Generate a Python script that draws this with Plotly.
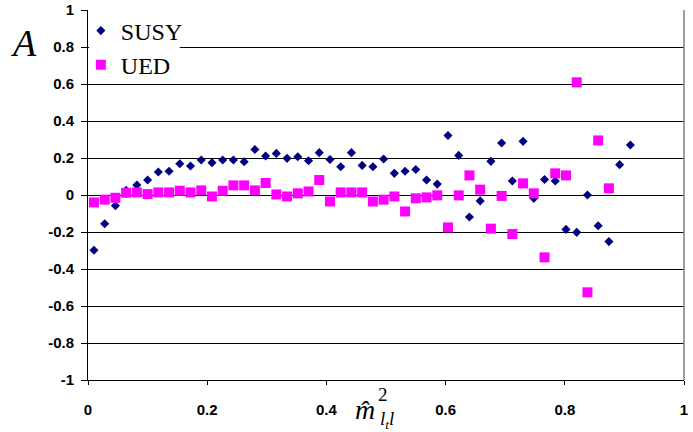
import plotly.graph_objects as go

# bin centres (shared by both models)
x_bins = [0.010, 0.028, 0.046, 0.064, 0.082, 0.100, 0.118, 0.136, 0.154, 0.172,
          0.190, 0.208, 0.226, 0.244, 0.262, 0.280, 0.298, 0.316, 0.334, 0.352,
          0.370, 0.388, 0.406, 0.424, 0.442, 0.460, 0.478, 0.496, 0.514, 0.532,
          0.550, 0.568, 0.586, 0.604, 0.622, 0.640, 0.658, 0.676, 0.694, 0.712,
          0.730, 0.748, 0.766, 0.784, 0.802, 0.820, 0.838, 0.856, 0.874, 0.892,
          0.910]

susy_a = [-0.299, -0.155, -0.058, 0.025, 0.054, 0.081, 0.124, 0.128, 0.169, 0.157,
          0.189, 0.175, 0.189, 0.189, 0.180, 0.246, 0.211, 0.225, 0.198, 0.207,
          0.185, 0.229, 0.192, 0.153, 0.229, 0.160, 0.153, 0.195, 0.117, 0.128,
          0.138, 0.081, 0.059, 0.322, 0.214, -0.119, -0.032, 0.182, 0.281, 0.076,
          0.290, -0.018, 0.084, 0.076, -0.186, -0.202, 0.000, -0.166, -0.252, 0.164,
          0.270]

ued_a = [-0.040, -0.025, -0.015, 0.012, 0.014, 0.005, 0.014, 0.014, 0.023, 0.014,
         0.025, -0.008, 0.023, 0.052, 0.052, 0.025, 0.065, 0.003, -0.008, 0.009,
         0.019, 0.081, -0.035, 0.014, 0.014, 0.014, -0.035, -0.025, -0.008, -0.089,
         -0.018, -0.013, -0.002, -0.175, -0.002, 0.106, 0.029, -0.182, -0.005, -0.211,
         0.063, 0.009, -0.337, 0.117, 0.106, 0.609, -0.526, 0.295, 0.036]

x_ticks = [0, 0.2, 0.4, 0.6, 0.8, 1]
x_labels = ["0", "0.2", "0.4", "0.6", "0.8", "1"]
y_ticks = [1, 0.8, 0.6, 0.4, 0.2, 0, -0.2, -0.4, -0.6, -0.8, -1]
y_labels = ["1", "0.8", "0.6", "0.4", "0.2", "0", "-0.2", "-0.4", "-0.6", "-0.8", "-1"]

serif = "Liberation Serif, Times New Roman, serif"
sans = "Arial, Liberation Sans, sans-serif"

fig = go.Figure()
fig.add_trace(go.Scatter(
    x=x_bins, y=susy_a, mode="markers", name="SUSY",
    marker=dict(symbol="diamond", size=7, color="#000080")
))
fig.add_trace(go.Scatter(
    x=x_bins[:len(ued_a)], y=ued_a, mode="markers", name="UED",
    marker=dict(symbol="square", size=10, color="#FF00FF")
))

# white patch behind the legend hides the 0.8 gridline, gray right border
fig.add_shape(type="rect", xref="x", yref="y", x0=0.002, x1=0.154, y0=0.66, y1=0.96,
              fillcolor="white", line=dict(width=0), layer="above")
fig.add_shape(type="line", xref="paper", yref="paper", x0=1, x1=1, y0=0, y1=1,
              line=dict(color="#808080", width=1.5))

# axis titles (paper coords so they sit outside the plot area)
title_font = dict(family=serif, color="black")
fig.add_annotation(x=-0.109, y=0.911, xref="paper", yref="paper", text="<i>A</i>",
                   xanchor="center", yanchor="middle", showarrow=False,
                   font=dict(title_font, size=38))
fig.add_annotation(x=0.4648, y=-0.081, xref="paper", yref="paper", text="<i>m\u0302</i>",
                   xanchor="center", yanchor="middle", showarrow=False,
                   font=dict(title_font, size=28))
fig.add_annotation(x=0.495, y=-0.040, xref="paper", yref="paper", text="2",
                   xanchor="center", yanchor="middle", showarrow=False,
                   font=dict(title_font, size=19))
fig.add_annotation(x=0.5017, y=-0.108, xref="paper", yref="paper",
                   text="<i>l<sub>t</sub>l</i>",
                   xanchor="center", yanchor="middle", showarrow=False,
                   font=dict(title_font, size=19))

tick_font = dict(family=sans, size=15, color="black", weight="bold")

fig.update_layout(
    width=693, height=432,
    template="plotly_white",
    plot_bgcolor="white", paper_bgcolor="white",
    margin=dict(l=88, r=9, t=10, b=52, autoexpand=False),
    showlegend=True,
    legend=dict(x=-0.012, y=1.004, xanchor="left", yanchor="top",
                bgcolor="rgba(0,0,0,0)", font=dict(family=serif, size=24, color="black"),
                itemwidth=30, tracegroupgap=0),
    xaxis=dict(range=[0, 1], tickvals=x_ticks, ticktext=x_labels, showgrid=False,
               zeroline=False, showline=True, linecolor="black", linewidth=1,
               ticks="outside", ticklen=4, tickcolor="black", ticklabelstandoff=12,
               automargin=False, tickfont=tick_font),
    yaxis=dict(range=[-1, 1], tickvals=y_ticks, ticktext=y_labels, showgrid=True,
               gridcolor="black", gridwidth=1, zeroline=True, zerolinecolor="black",
               zerolinewidth=1, showline=True, linecolor="black", linewidth=1,
               ticks="outside", ticklen=6, tickcolor="black", ticklabelstandoff=4,
               automargin=False, tickfont=tick_font),
)

# drop the default 8px body margin so the figure fills the window
fig.write_html("out.html", config={"displayModeBar": False},
               post_script="document.body.style.margin='0';")
